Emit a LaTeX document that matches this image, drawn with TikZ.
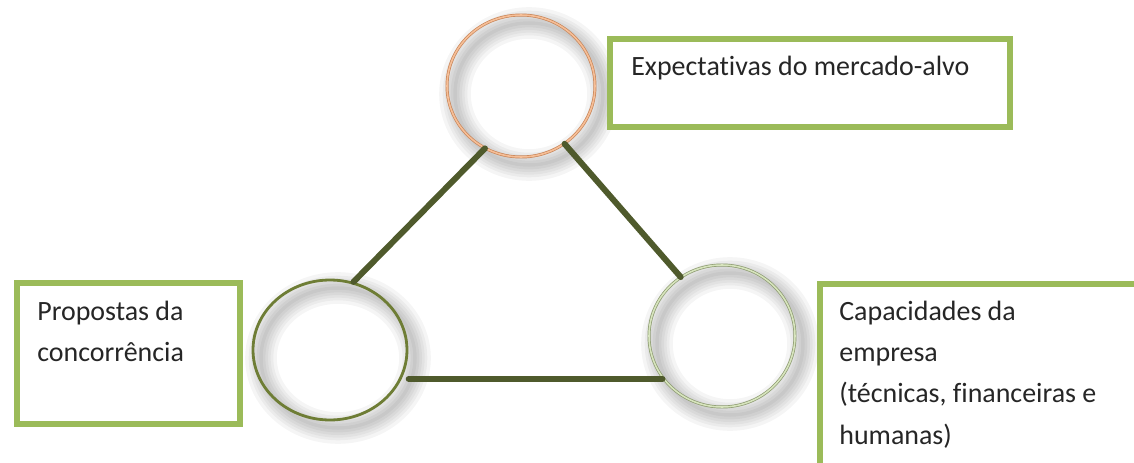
\documentclass[tikz,border=0pt]{standalone}
\usepackage{fontspec}
\setmainfont{Carlito}[Ligatures=NoCommon]
\usetikzlibrary{shapes}
\definecolor{boxgreen}{HTML}{9BBB59}
\definecolor{darkolive}{HTML}{4F5A2C}
\definecolor{olive}{HTML}{6E7D35}
\definecolor{peach}{HTML}{F6BE96}
\definecolor{peachedge}{HTML}{C8865A}
\definecolor{sage}{HTML}{D7E4BD}
\definecolor{sageedge}{HTML}{8C9A70}
\tikzstyle{ring} = [ellipse, inner sep=0pt]
\tikzstyle{panel} = [rectangle, draw=boxgreen, line width=3.6pt, fill=white, anchor=north west, inner sep=0pt]
\tikzstyle{boxtext} = [anchor=base west, align=left, inner sep=0pt, font=\fontsize{15.9}{23.5}\selectfont, text=black!85]
\tikzstyle{glow} = [draw=black, opacity=0.04]
\tikzstyle{line} = [draw=darkolive, line width=3.4pt, line cap=round]

\begin{document}
\begin{tikzpicture}[x=0.02cm, y=-0.02cm]
    \useasboundingbox (0,0) rectangle (1134,463);
    \clip (0,0) rectangle (1134,463);
    \foreach \cx/\cy/\rx/\ry in {521/86/74/71, 330/350/77/70, 722/336/73/71}
        \foreach \w in {2,5,8,11,14,18}
            \draw [glow, line width=\w pt] (\cx+8,\cy+8) ellipse [x radius=\rx, y radius=\ry];

    \node [panel, minimum width=8cm, minimum height=1.76cm] (mercado) at (607,36) {};
    \node [panel, minimum width=4.46cm, minimum height=2.82cm] (concorrencia) at (14,280) {};
    \node [panel, minimum width=6.66cm, minimum height=3.98cm] (empresa) at (817,281) {};

    \node [ring, minimum width=2.96cm, minimum height=2.84cm, draw=peachedge, double=peach, double distance=0.9pt, line width=0.4pt] (top) at (521,86) {};
    \node [ring, minimum width=3.08cm, minimum height=2.8cm, draw=olive, line width=1.6pt] (left) at (330,350) {};
    \node [ring, minimum width=2.92cm, minimum height=2.84cm, draw=sageedge, double=sage, double distance=0.9pt, line width=0.4pt] (right) at (722,336) {};

    \path [line] (top.240) -- (left.71);
    \path [line] (top.-53) -- (right.125);
    \path [line] ([xshift=4pt]left.-22) -- (left.-22 -| right.215);

    \node [boxtext] (mercado_txt) at (631,75) {Expectativas do mercado-alvo};
    \node [boxtext] (concorrencia_txt) at (37,361.5) {Propostas da\\concorrência};
    \node [boxtext] (empresa_txt) at (839,444) {Capacidades da\\empresa\\(técnicas, financeiras e\\humanas)};
\end{tikzpicture}
\end{document}
